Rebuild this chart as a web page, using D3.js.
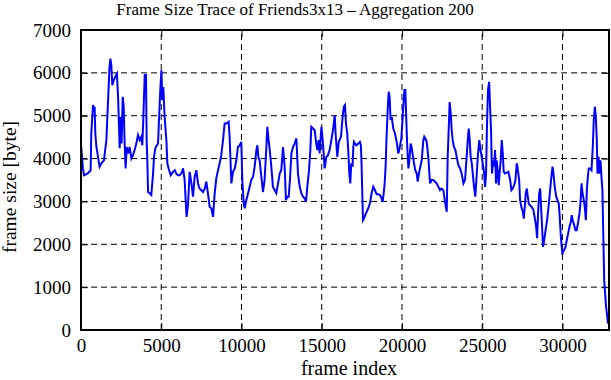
<!DOCTYPE html>
<html>
<head>
<meta charset="utf-8">
<script src="https://cdn.jsdelivr.net/npm/d3@7"></script>
<style>
  body { margin: 0; background: #fff; }
  svg text { font-family: "Liberation Serif", "Times New Roman", serif; fill: #000; }
</style>
</head>
<body>
<svg id="chart" width="611" height="380"></svg>
<script>
// frame index (aggregation 200) and mean frame size in bytes
var frames = [
  20, 120, 190, 400, 600, 640, 750, 810, 850, 890, 960, 1060, 1160, 1270, 1430, 1580, 1680, 1770, 1830, 1890,
  1950, 2040, 2140, 2240, 2310, 2370, 2410, 2470, 2530, 2600, 2660, 2720, 2780, 2850, 2930, 3030, 3140, 3240, 3340, 3450,
  3550, 3660, 3760, 3820, 3880, 3970, 4050, 4090, 4130, 4180, 4280, 4380, 4490, 4550, 4630, 4720, 4800, 4860, 4940, 5010,
  5070, 5130, 5210, 5320, 5380, 5460, 5590, 5730, 5840, 5940, 6040, 6150, 6250, 6360, 6460, 6520, 6580, 6670, 6770, 6880,
  6980, 7080, 7190, 7290, 7390, 7500, 7600, 7710, 7810, 7910, 8020, 8120, 8230, 8330, 8430, 8540, 8640, 8740, 8850, 8950,
  9060, 9200, 9260, 9370, 9470, 9580, 9680, 9780, 9890, 9990, 10050, 10140, 10200, 10300, 10410, 10510, 10610, 10720, 10820, 10930,
  10990, 11050, 11130, 11240, 11340, 11440, 11550, 11610, 11690, 11760, 11860, 11960, 12070, 12170, 12280, 12380, 12480, 12590, 12690, 12770,
  12860, 12940, 13020, 13110, 13210, 13310, 13420, 13520, 13630, 13730, 13830, 13940, 14020, 14100, 14210, 14290, 14350, 14460, 14560, 14660,
  14730, 14810, 14870, 14980, 15080, 15180, 15290, 15390, 15490, 15600, 15700, 15810, 15870, 15970, 16060,
  16200, 16300, 16380, 16450, 16510, 16590, 16650, 16720, 16780, 16840, 16920, 16970, 17010, 17070, 17170, 17280, 17380, 17440, 17480, 17530,
  17570, 17630, 17710, 17800, 17900, 18000, 18110, 18210, 18320, 18420, 18520, 18630, 18730, 18790, 18860, 18920, 18980, 19040, 19110, 19170,
  19230, 19290, 19360, 19460, 19560, 19670, 19770, 19830, 19900, 19960, 20020, 20080, 20150, 20210, 20270, 20330, 20400, 20460, 20540, 20600,
  20670, 20750, 20830, 20920, 20980, 21040, 21120, 21230, 21330, 21390, 21460, 21540, 21640, 21750, 21850, 21950, 22060, 22160, 22270, 22370,
  22470, 22580, 22680, 22790, 22850, 22910, 22970, 23040, 23100, 23160, 23240, 23330, 23410, 23510, 23620, 23720, 23830, 23930, 24030, 24100,
  24160, 24220, 24280, 24350, 24410, 24490, 24570, 24660, 24740, 24820, 24890, 24950, 25030, 25110, 25180, 25240, 25300, 25360, 25430, 25490,
  25550, 25610, 25680, 25740, 25800, 25860, 25900, 25970, 26030, 26090, 26150, 26220, 26280, 26340, 26420, 26530, 26630, 26740, 26820, 26900,
  26990, 27070, 27150, 27210, 27300, 27360, 27440, 27530, 27590, 27650, 27710, 27780, 27840, 27900, 27980, 28090, 28190, 28300, 28360, 28420,
  28480, 28550, 28610, 28670, 28730, 28790, 28860, 28920, 28980, 29040, 29130, 29230, 29290, 29380, 29440, 29520, 29610, 29690, 29770, 29830,
  29900, 30000, 30020, 30100, 30190, 30270, 30350, 30440, 30520, 30580, 30640, 30730, 30810, 30890, 30980, 31060, 31120, 31190, 31250, 31330,
  31390, 31460, 31520, 31580, 31640, 31730, 31810, 31890, 31950, 32020, 32080, 32140, 32180, 32250, 32310, 32370, 32430, 32490, 32560, 32600,
  32660, 32720, 32790, 32830
];
var sizes = [
  4260, 3770, 3610, 3650, 3720, 4590, 5250, 5090, 5210, 4590, 4270, 4040, 3810, 3890, 3960, 4430, 5290, 6100, 6330, 6180,
  5710, 5830, 5910, 5980, 5440, 4740, 4240, 4970, 4350, 5440, 5210, 4350, 3770, 4270, 4120, 4270, 4000, 4080, 4200, 4350,
  4550, 4430, 4510, 4310, 4900, 5950, 5950, 4430, 4000, 3220, 3190, 3150, 3650, 4040, 4240, 4310, 4350, 4900, 5600, 6060,
  5360, 5670, 4970, 4430, 3890, 3770, 3610, 3690, 3730, 3650, 3610, 3610, 3650, 3770, 3500, 3030, 2640, 2950, 3690, 3420,
  3110, 3570, 3730, 3420, 3300, 3260, 3220, 3300, 3460, 3190, 2870, 2840, 2640, 3190, 3540, 3730, 3890, 4080, 4430, 4820,
  4820, 4860, 4510, 3420, 3690, 3770, 3960, 4270, 4310, 4390, 3500, 2950, 2840, 3030, 3190, 3340, 3500, 3570, 3810, 4200,
  4310, 4040, 3960, 3570, 3220, 3500, 4270, 4740, 4430, 4200, 3810, 3340, 3260, 3190, 3420, 3650, 3730, 4270, 3810, 3030,
  3110, 3110, 3500, 4120, 4270, 4350, 4470, 3650, 3340, 3190, 3110, 3070, 2990, 3340, 3730, 4200, 4740, 4700, 4660, 4350,
  4200, 4430, 4120, 4740, 4350, 3770, 4040, 4080, 4200, 4430, 4660, 5010, 4550, 4040, 4390,
  4510, 4970, 5210, 5250, 4820, 4590, 4200, 3650, 3420, 3890, 3810, 4270, 4390, 4350, 4310, 4350, 4390, 4310, 3890, 3150,
  2560, 2600, 2680, 2760, 2840, 2950, 3190, 3340, 3260, 3170, 3170, 3150, 3070, 2990, 3190, 3420, 3810, 4510, 5130, 5560,
  5440, 4900, 4970, 4700, 4590, 4390, 4120, 4200, 4350, 4470, 4820, 5210, 5600, 5600, 4900, 4270, 3770, 3960, 4350, 4270,
  4080, 3890, 3730, 3650, 3460, 3610, 3770, 3960, 4430, 4510, 4470, 4390, 4040, 3420, 3500, 3500, 3460, 3420, 3340, 3260,
  3300, 3260, 2990, 2760, 4040, 4660, 5320, 5050, 4660, 4430, 4270, 4200, 4040, 3850, 3770, 3650, 3420, 3500, 4040, 4430,
  4700, 4430, 4040, 3890, 3650, 3340, 3110, 3650, 4120, 4430, 4200, 4080, 3890, 3690, 3340, 3650, 4820, 5600, 5790, 5210,
  4660, 3650, 3960, 3810, 4200, 3420, 3960, 3690, 3380, 3690, 3960, 4430, 4120, 3690, 3650, 3670, 3690, 3500, 3260, 3300,
  3380, 3500, 3890, 3770, 3500, 3030, 2870, 2760, 2600, 2870, 3190, 3300, 3110, 2950, 2910, 2870, 2800, 2560, 2410, 2140,
  2720, 3190, 3300, 2870, 2410, 1940, 2100, 2250, 2410, 2560, 2870, 3260, 3500, 3810, 3650, 3340, 3110, 3030, 2950, 2640,
  2170, 1750, 1820, 1860, 1940, 2100, 2250, 2410, 2520, 2680, 2560, 2450, 2330, 2330, 2520, 2720, 2950, 3420, 3190, 3030,
  2870, 2560, 3260, 3570, 3770, 3770, 3730, 4270, 4900, 5210, 4970, 4430, 3650, 4040, 3650, 3960, 3570, 3260, 1940, 1160,
  850, 540, 310, 150
];

var xTicks = [0, 5000, 10000, 15000, 20000, 25000, 30000];
var yTicks = [0, 1000, 2000, 3000, 4000, 5000, 6000, 7000];
var xMax = 32900;

var svg = d3.select("#chart");
var plotL = 81, plotR = 609, plotT = 30, plotB = 330;
var tickLen = 7;

var x = d3.scaleLinear().domain([0, xMax]).range([plotL, plotR]);
var y = d3.scaleLinear().domain([0, 7000]).range([plotB, plotT]);

// dashed grid
svg.append("g").selectAll("line")
  .data(yTicks.filter(function(d) { return d > 0 && d < 7000; }))
  .enter().append("line")
  .attr("x1", plotL).attr("x2", plotR)
  .attr("y1", function(d) { return y(d); }).attr("y2", function(d) { return y(d); })
  .attr("stroke", "#000").attr("stroke-width", 1).attr("stroke-dasharray", "6,4");

svg.append("g").selectAll("line")
  .data(xTicks.filter(function(d) { return d > 0; }))
  .enter().append("line")
  .attr("y1", plotB).attr("y2", plotT)
  .attr("x1", function(d) { return x(d); }).attr("x2", function(d) { return x(d); })
  .attr("stroke", "#000").attr("stroke-width", 1).attr("stroke-dasharray", "6,4");

// axes, ticks pointing inward and mirrored on top/right
var fmt = d3.format("d");
var axB = d3.axisBottom(x).tickValues(xTicks).tickFormat(fmt).tickSizeInner(-tickLen).tickSizeOuter(0).tickPadding(9);
var axT = d3.axisTop(x).tickValues(xTicks).tickSizeInner(-tickLen).tickSizeOuter(0).tickFormat("");
var axL = d3.axisLeft(y).tickValues(yTicks).tickFormat(fmt).tickSizeInner(-tickLen).tickSizeOuter(0).tickPadding(10);
var axR = d3.axisRight(y).tickValues(yTicks).tickSizeInner(-tickLen).tickSizeOuter(0).tickFormat("");

function styleAxis(g) {
  g.select(".domain").remove();
  g.selectAll(".tick line").attr("stroke", "#000").attr("stroke-width", 1);
  g.selectAll(".tick text").attr("font-size", 19).attr("font-family", "Liberation Serif");
}

svg.append("g").attr("transform", "translate(0," + plotB + ")").call(axB).call(styleAxis);
svg.append("g").attr("transform", "translate(0," + plotT + ")").call(axT).call(styleAxis);
svg.append("g").attr("transform", "translate(" + plotL + ",0)").call(axL).call(styleAxis);
svg.append("g").attr("transform", "translate(" + plotR + ",0)").call(axR).call(styleAxis);

// trace
var line = d3.line()
  .x(function(d, i) { return x(frames[i]); })
  .y(function(d) { return y(d); });

svg.append("path")
  .datum(sizes)
  .attr("d", line)
  .attr("fill", "none")
  .attr("stroke", "#0000ff")
  .attr("stroke-width", 2)
  .attr("stroke-linejoin", "miter");

// border
svg.append("rect")
  .attr("x", plotL).attr("y", plotT)
  .attr("width", plotR - plotL).attr("height", plotB - plotT)
  .attr("fill", "none").attr("stroke", "#000").attr("stroke-width", 2);

// titles
svg.append("text")
  .attr("x", 295).attr("y", 15)
  .attr("text-anchor", "middle").attr("font-size", 17)
  .text("Frame Size Trace of Friends3x13 \u2013 Aggregation 200");

svg.append("text")
  .attr("x", 349).attr("y", 375)
  .attr("text-anchor", "middle").attr("font-size", 20)
  .text("frame index");

svg.append("text")
  .attr("transform", "translate(16,187) rotate(-90)")
  .attr("text-anchor", "middle").attr("font-size", 19.5)
  .text("frame size [byte]");
</script>
</body>
</html>
